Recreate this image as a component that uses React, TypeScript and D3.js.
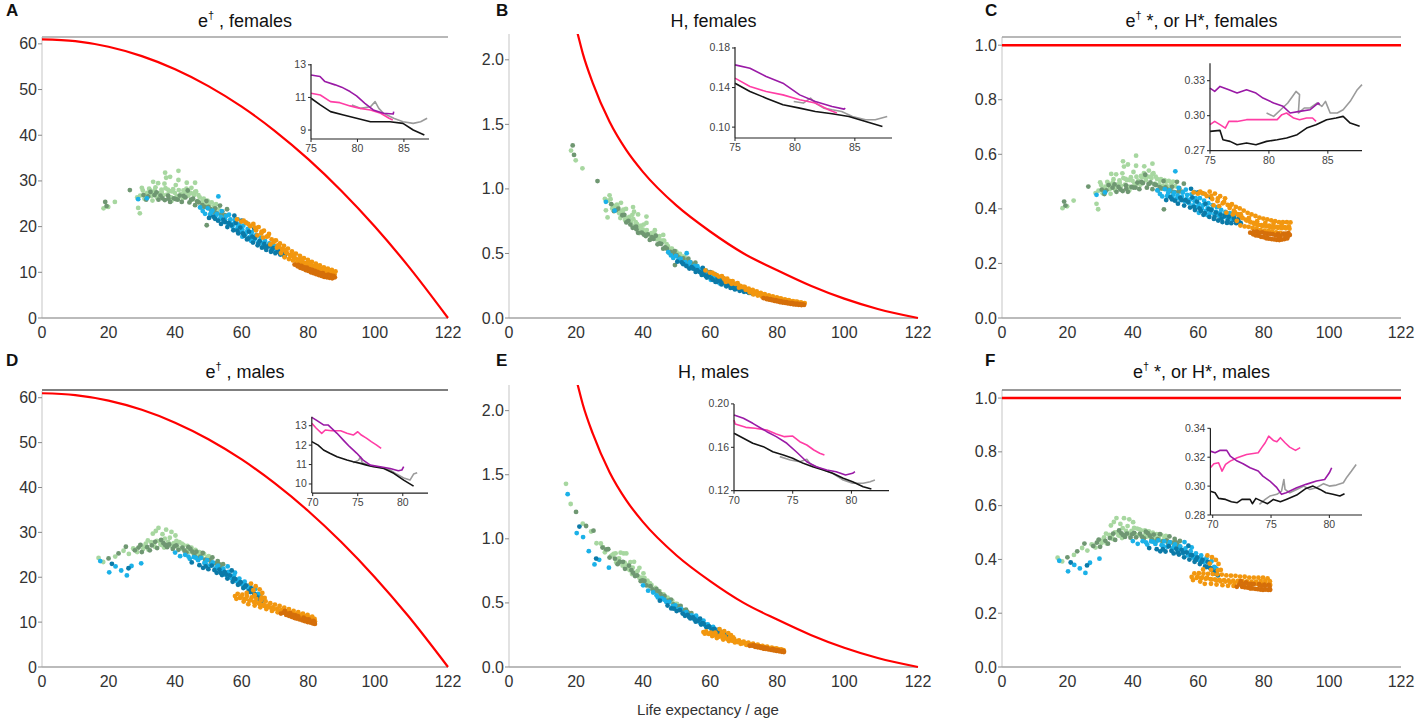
import React from 'react';
import * as d3 from 'd3';

// ---------- DATA ----------
const AGE_TICKS = [0, 20, 40, 60, 80, 100, 122];
const EDAG_TICKS = [0, 10, 20, 30, 40, 50, 60];
const H_TICKS = [0, 0.5, 1, 1.5, 2];
const STAR_TICKS = [0, 0.2, 0.4, 0.6, 0.8, 1];
const OMEGA = 122;

// red bound for e-dagger (panels A, D)
const BOUND_AGES = [0, 10, 20, 30, 40, 50, 60, 70, 80, 90, 100, 110, 122];
const BOUND_EDAG = [61.0, 60.59, 59.36, 57.31, 54.44, 50.75, 46.25, 40.92, 34.77, 27.8, 20.02, 11.41, 0];
// red bound for H (panels B, E)
const HBOUND_AGES = [19, 20.5, 22, 25, 30, 35, 40, 50, 60, 70, 80, 90, 100, 110, 122];
const HBOUND_VALUES = [2.35, 2.2, 2.05, 1.82, 1.52, 1.3, 1.13, 0.87, 0.67, 0.5, 0.37, 0.25, 0.15, 0.07, 0];

// scatter [life expectancy, e-dagger], females
const FEM_GREEN_LIGHT = [[18.5,24.0],[19.9,24.3],[21.9,25.4],[28.9,24.1],[29.4,22.9],[28.6,26.4],[33.4,29.8],[34.9,29.5],[37.0,31.8],[37.3,30.7],[38.5,30.9],[41.0,32.2],[41.0,30.2],[43.5,29.6],[46.0,29.6],[46.0,27.6],
  [29.5,26.8],[30.3,27.9],[30.8,26.1],[31.6,27.4],[32.2,28.3],[32.9,26.7],[33.5,27.6],[34.1,28.6],[34.6,26.3],[35.3,27.3],[35.9,28.1],[36.4,26.9],[37.1,28.4],[37.6,27.0],[38.2,27.8],[38.8,26.4],[39.4,28.2],[39.9,27.4],[40.5,26.7],[41.1,28.0],[41.7,27.1],[42.3,26.2],[42.8,27.6],[43.4,28.3],[44.0,26.8],[44.6,27.4],[45.1,25.9],[45.7,26.9],[46.3,27.7],[46.8,25.6],[47.4,26.4],[48.0,25.2],[48.6,26.1],[49.1,24.8],[49.7,25.7],[50.3,24.6],[51.0,25.3],[51.6,24.1],[52.3,24.9],[53.0,23.9],[36.8,29.4],[40.2,29.1],[44.9,28.5],[38.9,25.6],[33.2,25.7],
  [31.0,27.0],[32.5,27.9],[34.3,27.2],[36.0,27.6],[37.8,28.1],[39.0,27.7],[40.9,26.4],[42.5,27.9],[43.9,27.3],[45.4,27.2],[47.0,26.9],[48.3,25.9],[50.0,25.4],[51.8,24.6],[33.9,28.0],[30.0,28.5]];
const FEM_GREEN_DARK = [[19.0,25.4],[19.4,24.5],[26.4,28.0],[30.5,26.9],[31.3,25.9],[32.6,27.6],[33.8,26.9],[35.0,25.9],[35.6,26.8],[36.9,25.8],[37.9,26.8],[38.5,25.4],[39.6,26.2],[40.8,25.9],[41.4,26.8],[42.0,25.4],[43.1,26.4],[44.3,25.3],[45.4,26.1],[46.0,24.7],[47.1,25.3],[47.7,24.2],[48.9,24.3],[49.4,25.6],[50.6,23.8],[51.3,23.4],[52.0,24.0],[52.7,22.9],[53.5,24.6],[54.2,23.3],[55.0,22.5],[55.6,23.8],[49.5,20.3],[43.8,27.9],
  [31.9,26.6],[34.4,27.5],[36.2,26.2],[38.0,26.1],[40.2,26.0],[42.6,26.7],[44.8,25.9],[46.6,25.5],[48.2,24.7],[50.0,24.3],[51.9,23.2],[53.9,22.7]];
const FEM_BLUE_LIGHT = [[28.9,26.0],[31.5,26.2],[53.0,26.6],[47.5,24.2],[48.3,23.4],[49.0,22.8],[49.8,24.0],[50.5,22.6],[51.2,23.5],[51.9,21.9],[52.6,22.8],[53.3,21.6],[54.0,23.4],[54.6,21.1],[55.3,22.3],[55.9,20.6],[56.6,21.6],[57.2,20.0],[57.9,21.4],[58.5,19.4],[59.2,20.5],[59.8,18.9],[60.5,20.2],[61.1,18.3],[61.8,19.5],[62.4,17.7],[63.1,18.8],[63.7,17.1],[64.4,18.2],[65.0,16.6],[65.7,17.6],[66.3,16.1],[67.0,16.9],[67.6,15.6],[68.3,16.3],[69.0,15.1],[69.7,15.8],[70.4,14.7],[71.1,15.2],[56.2,22.6],[58.8,21.6],[61.4,20.8],[60.2,17.8],[62.8,16.9],
  [50.8,23.1],[52.2,22.4],[53.7,22.1],[55.0,21.6],[56.4,20.9],[57.6,20.6],[58.9,20.0],[60.2,19.3],[61.5,18.8],[62.9,18.1],[64.1,17.6],[65.4,16.9],[66.7,16.5],[68.0,15.9],[69.3,15.5],[70.7,15.0]];
const FEM_BLUE_DARK = [[50.2,21.9],[51.5,22.2],[52.9,21.3],[53.8,20.6],[55.0,21.0],[55.7,19.9],[56.9,20.3],[57.5,19.2],[58.2,20.8],[59.0,18.5],[59.6,19.8],[60.8,18.0],[61.6,17.2],[62.2,18.9],[63.4,16.5],[64.0,17.5],[64.8,15.9],[65.4,16.8],[66.1,15.4],[66.8,16.2],[67.4,14.9],[68.1,15.7],[68.8,14.5],[69.4,15.3],[70.1,14.2],[70.9,14.8],[71.6,13.9],[72.3,14.4],[73.0,13.6],[57.8,22.4],[60.0,21.3],[63.8,19.6],
  [52.0,21.7],[54.5,21.5],[56.1,20.8],[58.7,19.1],[60.4,18.5],[62.0,17.4],[63.2,17.8],[65.0,16.2],[67.1,15.5],[69.0,14.8],[71.2,14.4],[72.6,13.8]];
const FEM_ORANGE = [[58.6,21.6],[59.9,21.1],[61.2,20.9],[62.6,20.1],[63.5,20.6],[64.3,19.2],[65.1,19.9],[65.9,18.5],[66.7,19.1],[67.5,17.8],[68.2,18.4],[69.0,17.2],[69.6,16.6],[70.3,17.0],[70.9,15.9],[71.5,16.3],[72.1,15.1],[72.7,15.8],[73.3,14.4],[73.9,15.2],[74.5,13.8],[75.1,14.6],[75.7,13.3],[76.3,14.1],[76.9,12.8],[77.5,13.6],[78.1,12.4],[78.7,13.1],[79.3,12.0],[79.9,12.7],[80.5,11.7],[81.1,12.3],[81.7,11.4],[82.3,11.9],[82.9,11.0],[83.5,11.5],[84.1,10.7],[84.7,11.1],[85.3,10.4],[85.9,10.8],[86.5,10.1],[87.1,10.5],[87.7,9.9],[88.2,10.2],[71.8,14.2],[72.9,13.3],[74.2,12.9],[75.4,12.6],[76.6,12.2],[77.8,11.9],[79.0,11.4],[80.2,11.1],[81.4,10.8],[82.6,10.5],[83.8,10.1],[85.0,9.8],[70.6,15.4],[68.6,16.1],[66.4,17.6],[64.7,18.1],
  [60.6,21.3],[62.0,20.6],[64.0,19.8],[66.0,18.9],[67.9,17.9],[69.9,16.9],[71.2,15.6],[72.4,14.9],[73.6,14.2],[74.8,13.6],[76.0,13.1],[77.2,12.6],[78.4,12.2],[79.6,11.8],[80.8,11.5],[82.0,11.1],[83.2,10.8],[84.4,10.5],[85.6,10.2],[86.8,9.9],[87.9,9.6],[73.0,14.9],[75.5,13.8],[78.0,12.8],[80.5,12.0],[83.0,11.3],[85.5,10.6]];
const FEM_ORANGE_DARK = [[75.9,11.7],[76.8,11.3],[77.6,11.0],[78.4,10.8],[79.2,10.5],[80.0,10.3],[80.8,10.0],[81.6,9.8],[82.4,9.6],[83.2,9.4],[84.0,9.2],[84.8,9.0],[85.6,8.9],[86.4,8.8],[87.2,8.7],[86.0,9.5],[84.4,9.8],[82.8,10.1],[81.2,10.5],[79.6,11.0],[78.0,11.4],[87.6,9.2],[88.0,8.9],[86.8,9.3],
  [77.0,11.6],[78.8,11.1],[80.4,10.7],[82.0,10.3],[83.6,9.8],[85.2,9.4],[86.6,9.1],[81.0,10.1],[84.6,9.4],[87.4,8.9]];

// scatter [life expectancy, e-dagger], males
const MALE_GREEN_LIGHT = [[17.0,24.3],[18.4,23.4],[22.0,24.6],[24.5,25.9],[26.1,25.2],[27.4,26.4],[28.6,25.6],[29.5,27.1],[30.4,26.3],[31.2,27.5],[32.0,26.1],[32.8,27.8],[33.3,29.7],[33.9,26.8],[34.5,28.1],[35.0,31.0],[35.6,27.3],[36.2,29.6],[36.7,26.6],[37.3,30.6],[37.9,27.9],[38.4,28.8],[39.0,26.9],[39.6,27.6],[40.1,29.3],[40.7,26.8],[41.3,27.8],[41.9,26.4],[42.5,27.2],[43.1,26.0],[43.7,27.0],[44.3,25.7],[44.9,26.6],[45.5,25.3],[46.1,26.1],[46.7,24.9],[47.3,25.6],[48.0,24.5],[48.7,25.2],[49.4,24.0],[50.1,24.7],[34.2,30.3],[38.9,30.1],
  [28.0,26.2],[30.8,26.9],[33.5,27.3],[35.3,28.0],[36.9,28.6],[38.6,27.3],[40.4,28.1],[42.0,27.5],[43.9,26.3],[45.8,25.8],[47.9,25.0],[49.7,24.5],[31.8,28.2],[36.0,27.2]];
const MALE_GREEN_DARK = [[20.0,24.2],[23.0,25.3],[25.2,26.8],[27.9,26.0],[29.0,26.6],[30.0,25.6],[31.6,26.7],[33.0,27.1],[34.6,26.5],[35.8,28.3],[36.5,27.6],[37.6,26.7],[38.2,27.3],[39.3,26.3],[40.4,27.1],[41.0,26.1],[42.2,26.6],[43.4,25.5],[44.6,26.3],[45.8,24.9],[46.4,25.7],[47.6,24.6],[48.3,25.4],[49.0,23.9],[50.4,23.8],[51.2,24.4],[52.0,23.1],[52.8,23.6],[53.6,22.4],[54.4,22.9],
  [29.6,27.2],[32.4,26.0],[34.0,27.9],[37.0,27.2],[39.8,26.9],[42.8,25.9],[45.2,25.7],[47.0,24.2],[50.8,23.2],[53.2,22.9],[44.0,26.7]];
const MALE_BLUE_LIGHT = [[17.5,23.6],[20.2,21.1],[22.1,22.4],[23.8,21.5],[25.5,20.4],[26.9,22.5],[29.8,23.1],[40.0,25.5],[41.5,24.7],[43.0,25.0],[44.4,24.1],[45.6,24.5],[46.9,23.8],[47.8,24.3],[48.8,23.2],[49.6,23.8],[50.5,22.6],[51.3,23.3],[52.1,21.9],[52.9,22.6],[53.7,21.2],[54.5,21.9],[55.3,20.5],[56.1,21.2],[56.9,19.8],[57.7,20.4],[58.5,19.1],[59.3,19.7],[60.1,18.4],[60.9,19.0],[61.7,17.7],[62.5,18.2],[63.3,17.0],[64.1,17.4],[64.9,16.3],[65.6,15.8],[55.8,22.4],[58.0,21.0],
  [49.2,23.0],[50.9,22.8],[52.5,22.2],[54.1,21.5],[55.6,20.8],[57.3,20.1],[58.9,19.3],[60.5,18.7],[62.1,17.9],[63.7,17.2],[65.2,16.1],[46.3,24.3],[44.0,24.6]];
const MALE_BLUE_DARK = [[21.0,23.0],[26.0,22.0],[45.0,23.3],[47.3,22.7],[48.4,22.1],[50.0,21.8],[51.0,22.6],[52.5,21.0],[53.3,21.7],[54.1,20.5],[54.9,21.2],[55.7,19.7],[56.5,20.4],[57.3,19.0],[58.1,19.6],[58.9,18.3],[59.7,18.9],[60.5,17.6],[61.3,18.2],[62.1,16.9],[62.9,17.5],[63.7,16.3],[64.5,15.6],[65.3,15.1],[66.0,14.7],[57.0,21.5],
  [51.8,21.6],[53.8,20.9],[55.4,20.6],[57.7,19.7],[59.3,18.6],[61.0,17.9],[62.6,16.7],[64.0,16.0],[65.6,15.4],[49.2,22.4]];
const MALE_ORANGE = [[58.0,15.8],[58.8,16.3],[59.5,15.4],[60.2,16.1],[60.9,15.1],[61.6,15.8],[62.3,14.8],[63.0,15.5],[63.7,14.5],[64.4,15.2],[65.1,14.2],[65.8,14.9],[66.5,13.9],[67.2,14.6],[67.9,13.6],[68.6,14.2],[69.3,13.3],[70.0,13.9],[70.7,13.0],[71.4,13.6],[72.1,12.7],[72.8,13.2],[73.5,12.4],[74.2,12.9],[74.9,12.1],[75.6,12.5],[76.3,11.8],[77.0,12.2],[77.7,11.5],[78.4,11.9],[79.1,11.3],[79.8,11.6],[80.5,11.0],[81.2,11.2],[81.9,10.7],[62.8,18.6],[64.2,18.0],[65.4,17.3],[66.2,16.5],[63.5,17.1],[60.6,14.6],[62.0,14.0],[63.9,13.7],[65.6,13.3],[67.4,12.9],[69.1,12.5],[70.8,12.2],[66.9,15.4],
  [58.4,15.2],[59.8,15.6],[61.2,15.2],[62.7,14.9],[64.0,14.4],[65.5,14.0],[66.8,13.6],[68.3,13.3],[69.7,12.9],[71.1,12.6],[72.5,12.3],[73.9,12.0],[75.3,11.7],[76.7,11.4],[78.1,11.1],[79.5,10.8],[80.9,10.5],[82.0,10.2],[61.5,16.5],[63.9,16.0],[66.0,15.5]];
const MALE_ORANGE_DARK = [[71.8,11.9],[72.6,12.1],[73.4,11.6],[74.2,11.4],[75.0,11.2],[75.8,11.0],[76.6,10.8],[77.4,10.6],[78.2,10.4],[79.0,10.2],[79.8,10.0],[80.6,9.9],[81.4,9.7],[82.0,9.6],[76.2,11.5],[78.6,11.0],[80.2,10.6],[81.6,10.3],[73.0,12.5],[74.6,12.0],
  [73.8,11.9],[75.4,11.6],[77.0,11.3],[78.8,10.8],[80.4,10.4],[81.8,10.0],[76.0,10.9],[79.4,10.6]];

// inset series, panel A (e-dagger, females)
const INSET_A_PURPLE = [[75,12.38],[75.97,12.28],[76.5,11.97],[77.6,11.77],[78.3,11.63],[79.2,11.36],[79.9,11.09],[80.8,10.64],[81.7,10.23],[82.8,10.03],[83.85,9.98],[83.9,10.13]];
const INSET_A_PINK = [[75,11.26],[76,11.15],[77.1,10.74],[78.1,10.68],[79.2,10.48],[80.3,10.33],[81.4,10.23],[82.5,10.03],[83.4,9.72],[83.8,9.62]];
const INSET_A_BLACK = [[75,10.95],[76,10.54],[77.1,10.13],[78.5,9.92],[79.9,9.72],[81.4,9.51],[82.5,9.51],[83.5,9.51],[84.9,9.41],[86,9.0],[87.2,8.69]];
const INSET_A_GRAY = [[79.4,10.54],[80.3,10.33],[81.4,10.43],[81.9,10.74],[82.3,10.33],[82.8,10.03],[83.9,9.72],[84.9,9.51],[86,9.41],[86.8,9.51],[87.5,9.72]];
// panel B (H, females)
const INSET_B_PURPLE = [[75,0.1629],[76.25,0.1595],[77.6,0.1511],[79,0.1444],[80.4,0.1326],[81.7,0.1259],[83.1,0.1208],[84.1,0.1182],[84.2,0.1192]];
const INSET_B_PINK = [[75,0.1495],[76.25,0.141],[77.6,0.136],[79,0.1326],[80.4,0.1276],[81.7,0.1243],[82.8,0.1175],[83.5,0.1142]];
const INSET_B_BLACK = [[75,0.1444],[76.25,0.136],[77.6,0.1293],[79,0.1226],[80.4,0.1192],[81.7,0.1158],[83.1,0.1135],[84.5,0.1108],[85.9,0.1057],[87.3,0.1007]];
const INSET_B_GRAY = [[79.9,0.1259],[80.7,0.1243],[81.3,0.1293],[81.7,0.1243],[82.4,0.1192],[83.1,0.1175],[83.9,0.1158],[84.8,0.1108],[85.9,0.1074],[86.7,0.1074],[87.7,0.1108]];
// panel C (e-dagger*, females)
const INSET_C_PURPLE = [[75,0.3237],[75.4,0.3208],[75.85,0.3251],[76.6,0.3223],[77.3,0.3194],[78.1,0.3223],[78.9,0.3194],[79.5,0.3151],[80.4,0.3109],[81.2,0.308],[81.8,0.3023],[82.6,0.3037],[83.5,0.3051],[84.2,0.3109],[84.3,0.3094]];
const INSET_C_PINK = [[75,0.2923],[75.4,0.2951],[75.85,0.2923],[76.3,0.2894],[76.6,0.2951],[77.3,0.2951],[78.1,0.2966],[79.8,0.2966],[80.7,0.2966],[81.1,0.3009],[81.5,0.3023],[82.1,0.298],[82.6,0.2966],[83.2,0.298],[83.7,0.298],[84,0.2951]];
const INSET_C_BLACK = [[75,0.2866],[75.85,0.2874],[76.1,0.2794],[76.7,0.278],[77.3,0.2751],[78.1,0.2766],[78.9,0.2751],[79.8,0.278],[80.7,0.2794],[81.5,0.2809],[82.4,0.2837],[83.2,0.2894],[84,0.2923],[84.9,0.2966],[85.7,0.298],[86.3,0.2994],[86.9,0.2937],[87.7,0.2909]];
const INSET_C_GRAY = [[79.8,0.3023],[80.4,0.2994],[81,0.3051],[81.6,0.3109],[82.3,0.3208],[82.6,0.318],[82.5,0.3023],[83,0.3066],[83.5,0.3066],[84.1,0.3109],[84.5,0.308],[84.8,0.3123],[85.2,0.3023],[85.8,0.3023],[86.3,0.3051],[86.9,0.3123],[87.5,0.3223],[87.9,0.3266]];
// panel D (e-dagger, males)
const INSET_D_PURPLE = [[69.9,13.43],[70.4,13.29],[71.2,13.04],[71.7,13.04],[72.7,12.61],[73.4,12.26],[74.1,11.92],[74.9,11.58],[75.6,11.23],[76.4,10.97],[77.5,10.89],[78.6,10.8],[79.5,10.68],[79.9,10.72],[80.1,10.89]];
const INSET_D_PINK = [[69.9,13.12],[70.4,12.87],[71.0,12.61],[71.4,12.78],[72.1,12.74],[73.1,12.74],[73.8,12.61],[74.5,12.52],[75,12.69],[75.4,12.52],[76,12.35],[76.5,12.18],[77.1,12.0],[77.6,11.83]];
const INSET_D_BLACK = [[69.9,12.18],[70.6,12.0],[71.2,11.75],[71.9,11.58],[72.7,11.4],[73.8,11.23],[74.5,11.14],[75.3,11.06],[76,10.97],[76.8,10.89],[77.9,10.8],[79,10.55],[80.1,10.2],[81.2,9.89]];
const INSET_D_GRAY = [[74.5,11.09],[75.1,11.23],[75.3,11.4],[75.5,11.09],[76.4,10.92],[77.5,10.86],[78.6,10.72],[79.3,10.51],[80.2,10.29],[80.8,10.2],[81.2,10.51],[81.6,10.58]];
// panel E (H, males)
const INSET_E_PURPLE = [[70,0.1898],[70.8,0.1867],[71.6,0.1821],[72.8,0.1744],[73.6,0.1698],[74.5,0.1637],[75.3,0.1559],[76.2,0.1467],[77,0.1421],[77.9,0.1391],[78.7,0.1375],[79.5,0.1345],[80.1,0.136],[80.3,0.1375]];
const INSET_E_PINK = [[70,0.1852],[70.1,0.1815],[71,0.1784],[71.8,0.1775],[72.8,0.1759],[73.6,0.1723],[74.3,0.1698],[75,0.1704],[75.6,0.1652],[76.2,0.1621],[76.8,0.1575],[77.3,0.1545],[77.7,0.1529]];
const INSET_E_BLACK = [[70,0.1729],[70.8,0.1683],[71.6,0.1637],[72.5,0.1606],[73.3,0.1559],[74.2,0.1529],[75,0.1499],[75.9,0.1452],[76.7,0.1421],[77.6,0.1391],[78.4,0.136],[79.3,0.1314],[80.1,0.1283],[81,0.1237],[81.7,0.1216]];
const INSET_E_GRAY = [[73.9,0.1514],[74.8,0.1483],[75.6,0.1467],[76.2,0.1489],[76.5,0.1446],[77.3,0.1406],[78.4,0.136],[79.3,0.1298],[80.1,0.1268],[81,0.1268],[81.6,0.1283],[82,0.1298]];
// panel F (e-dagger*, males)
const INSET_F_PURPLE = [[69.8,0.3242],[70.2,0.3231],[70.6,0.3247],[71.2,0.3247],[71.5,0.3208],[72.1,0.3173],[72.6,0.3155],[73.2,0.3127],[73.9,0.3104],[74.3,0.3069],[74.9,0.3035],[75.5,0.2989],[75.9,0.2943],[76.3,0.2954],[77.2,0.2989],[78,0.3012],[78.9,0.3035],[79.6,0.3046],[80,0.3092],[80.2,0.3127]];
const INSET_F_PINK = [[69.8,0.3127],[70.1,0.3155],[70.5,0.3162],[70.8,0.3104],[71.1,0.315],[71.5,0.3173],[72.1,0.3196],[72.9,0.3219],[73.9,0.3231],[74.2,0.3266],[74.5,0.33],[74.8,0.3346],[75.2,0.3316],[75.5,0.3307],[75.8,0.3335],[76.2,0.33],[76.6,0.327],[77.1,0.3247],[77.5,0.3266]];
const INSET_F_BLACK = [[69.8,0.2965],[70.2,0.2954],[70.5,0.2915],[71.1,0.2908],[71.6,0.2892],[72.1,0.2885],[72.5,0.2908],[73.2,0.2908],[73.4,0.2878],[73.7,0.2915],[74.2,0.2896],[74.7,0.2878],[75.2,0.2908],[75.8,0.2892],[76.3,0.2908],[77.2,0.2938],[78,0.2984],[78.6,0.3],[79.2,0.2977],[79.7,0.2954],[80.3,0.2943],[80.9,0.2931],[81.3,0.2947]];
const INSET_F_GRAY = [[74,0.2873],[74.5,0.2908],[74.9,0.2931],[75.5,0.2943],[75.9,0.2965],[76.1,0.3046],[76.2,0.2977],[76.6,0.2954],[77.2,0.2977],[77.8,0.3],[78.3,0.2977],[78.9,0.2989],[79.5,0.3017],[80,0.3],[80.6,0.3007],[81.2,0.3023],[81.5,0.3062],[81.9,0.3104],[82.3,0.315]];

// ---------- STYLE ----------
const FONT = '"Liberation Sans", Arial, Helvetica, sans-serif';
const GROUP_COLORS = ['#a7d7a0', '#6f9772', '#1bb1e8', '#0b7aa8', '#f2970f', '#d56f0a'];
const LINE_COLORS = { purple: '#9a1aa6', pink: '#ff3da5', black: '#141414', gray: '#9b9b9b' };

const edagMax = (e0: number) => (OMEGA * OMEGA - e0 * e0) / (2 * OMEGA);

type Pt = number[];

function Inset({ cfg }: { cfg: any }) {
  const x = d3.scaleLinear().domain(cfg.xDomain).range(cfg.xRange);
  const y = d3.scaleLinear().domain(cfg.yDomain).range(cfg.yRange);
  const line = d3.line<Pt>().x(d => x(d[0])).y(d => y(d[1]));
  return (
    <g>
      {cfg.lines.map((l: any, i: number) => (
        <path key={i} d={line(l.pts) || ''} fill="none" stroke={l.color} strokeWidth={1.6} strokeLinejoin="round" />
      ))}
      <line x1={cfg.xRange[0]} x2={cfg.xRange[1]} y1={cfg.yRange[0]} y2={cfg.yRange[0]} stroke="#222" strokeWidth={1.2} />
      <line x1={cfg.xRange[0]} x2={cfg.xRange[0]} y1={cfg.yRange[0]} y2={cfg.yRange[1]} stroke="#222" strokeWidth={1.2} />
      {cfg.xTicks.map((t: number) => (
        <g key={'x' + t}>
          <line x1={x(t)} x2={x(t)} y1={cfg.yRange[0]} y2={cfg.yRange[0] + 3} stroke="#222" />
          <text x={x(t)} y={cfg.yRange[0] + 13} textAnchor="middle" fontSize={10.5} fill="#444">{t}</text>
        </g>
      ))}
      {cfg.yTicks.map((t: number) => (
        <g key={'y' + t}>
          <line x1={cfg.xRange[0] - 3} x2={cfg.xRange[0]} y1={y(t)} y2={y(t)} stroke="#222" />
          <text x={cfg.xRange[0] - 5} y={y(t) + 3.5} textAnchor="end" fontSize={10.5} fill="#444">{cfg.fmt(t)}</text>
        </g>
      ))}
    </g>
  );
}

function Panel({ p }: { p: any }) {
  const x = d3.scaleLinear().domain([0, OMEGA]).range([p.x0, p.x1]);
  const y = d3.scaleLinear().domain(p.yDomain).range([p.yBottom, p.yTop]);
  const clipId = 'clip-' + p.letter;
  const redLine = d3.line<Pt>().x(d => x(d[0])).y(d => y(d[1])).curve(d3.curveMonotoneX);
  return (
    <g>
      <defs>
        <clipPath id={clipId}>
          <rect x={p.x0 - 2} y={p.yTop} width={p.x1 - p.x0 + 4} height={p.yBottom - p.yTop + 2} />
        </clipPath>
      </defs>
      <text x={p.letterX} y={p.letterY} fontSize={17} fontWeight="bold" fill="#111">{p.letter}</text>
      <text x={(p.x0 + p.x1) / 2} y={p.titleY} textAnchor="middle" fontSize={18} fill="#111">
        {p.title}
      </text>
      <line x1={p.x0} x2={p.x0} y1={p.yTop} y2={p.yBottom} stroke="#cfcfcf" strokeWidth={1.2} />
      <line x1={p.x0} x2={p.x1} y1={p.yBottom} y2={p.yBottom} stroke="#a5a5a5" strokeWidth={1.5} />
      {p.topLine && (
        <line x1={p.x0} x2={p.x1} y1={p.topLine.y} y2={p.topLine.y} stroke={p.topLine.color} strokeWidth={1.6} />
      )}
      {AGE_TICKS.map(t => (
        <text key={'xt' + t} x={x(t)} y={p.yBottom + 20} textAnchor="middle" fontSize={16} fill="#333">{t}</text>
      ))}
      {p.yTicks.map((t: number) => (
        <g key={'yt' + t}>
          <line x1={p.x0 - 4} x2={p.x0} y1={y(t)} y2={y(t)} stroke="#888" />
          <text x={p.x0 - 5} y={y(t) + 5.5} textAnchor="end" fontSize={16} fill="#333">{p.fmt(t)}</text>
        </g>
      ))}
      <g>
        {p.groups.map((g: Pt[], gi: number) =>
          g.map((d, i) => {
            const v = p.transform(d);
            return <circle key={gi + '-' + i} cx={x(d[0])} cy={y(v)} r={2.4} fill={GROUP_COLORS[gi]} />;
          })
        )}
      </g>
      <g clipPath={`url(#${clipId})`}>
        {p.redCurve && <path d={redLine(p.redCurve) || ''} fill="none" stroke="#ff0000" strokeWidth={2.2} />}
        {p.redH !== undefined && (
          <line x1={p.x0} x2={p.x1} y1={y(p.redH)} y2={y(p.redH)} stroke="#ff0000" strokeWidth={2.6} />
        )}
      </g>
      <Inset cfg={p.inset} />
    </g>
  );
}

function titleDag(rest: string) {
  return (
    <>
      <tspan>e</tspan>
      <tspan dy={-8} fontSize={11}>†</tspan>
      <tspan dy={8}>{rest}</tspan>
    </>
  );
}

export default function App() {
  const boundCurve = BOUND_AGES.map((a, i) => [a, BOUND_EDAG[i]]);
  const hCurve = HBOUND_AGES.map((a, i) => [a, HBOUND_VALUES[i]]);
  const fem = [FEM_GREEN_LIGHT, FEM_GREEN_DARK, FEM_BLUE_LIGHT, FEM_BLUE_DARK, FEM_ORANGE, FEM_ORANGE_DARK];
  const male = [MALE_GREEN_LIGHT, MALE_GREEN_DARK, MALE_BLUE_LIGHT, MALE_BLUE_DARK, MALE_ORANGE, MALE_ORANGE_DARK];
  const idE = (d: Pt) => d[1];
  const idH = (d: Pt) => d[1] / d[0];
  const idS = (d: Pt) => d[1] / edagMax(d[0]);
  const f0 = (t: number) => String(t);
  const f1 = (t: number) => t.toFixed(1);
  const f2 = (t: number) => t.toFixed(2);
  const lines = (pu: Pt[], pi: Pt[], bl: Pt[], gr: Pt[]) => [
    { color: LINE_COLORS.gray, pts: gr },
    { color: LINE_COLORS.black, pts: bl },
    { color: LINE_COLORS.pink, pts: pi },
    { color: LINE_COLORS.purple, pts: pu },
  ];

  const panels = [
    {
      letter: 'A', letterX: 6, letterY: 16, titleY: 27, title: titleDag(' , females'),
      x0: 42, x1: 448, yTop: 37, yBottom: 318, yDomain: [0, 61.5], yTicks: EDAG_TICKS, fmt: f0,
      groups: fem, transform: idE, redCurve: boundCurve, topLine: { y: 37, color: '#a0a0a0' },
      inset: { xDomain: [75, 87.7], xRange: [311, 429], yDomain: [8.45, 13.05], yRange: [139, 64], xTicks: [75, 80, 85], yTicks: [9, 11, 13], fmt: f0, lines: lines(INSET_A_PURPLE, INSET_A_PINK, INSET_A_BLACK, INSET_A_GRAY) },
    },
    {
      letter: 'B', letterX: 496, letterY: 16, titleY: 27, title: 'H, females',
      x0: 509, x1: 918, yTop: 34, yBottom: 318, yDomain: [0, 2.2], yTicks: H_TICKS, fmt: f1,
      groups: fem, transform: idH, redCurve: hCurve,
      inset: { xDomain: [75, 88.1], xRange: [735, 892], yDomain: [0.089, 0.181], yRange: [138, 47], xTicks: [75, 80, 85], yTicks: [0.1, 0.14, 0.18], fmt: f2, lines: lines(INSET_B_PURPLE, INSET_B_PINK, INSET_B_BLACK, INSET_B_GRAY) },
    },
    {
      letter: 'C', letterX: 985, letterY: 16, titleY: 27, title: titleDag(' *, or H*, females'),
      x0: 1002, x1: 1401, yTop: 37, yBottom: 318, yDomain: [0, 1.03], yTicks: STAR_TICKS, fmt: f1,
      groups: fem, transform: idS, redH: 1, topLine: { y: 37, color: '#a0a0a0' },
      inset: { xDomain: [75, 87.9], xRange: [1210, 1362], yDomain: [0.27, 0.345], yRange: [150.7, 63.2], xTicks: [75, 80, 85], yTicks: [0.27, 0.3, 0.33], fmt: f2, lines: lines(INSET_C_PURPLE, INSET_C_PINK, INSET_C_BLACK, INSET_C_GRAY) },
    },
    {
      letter: 'D', letterX: 6, letterY: 366, titleY: 378, title: titleDag(' , males'),
      x0: 42, x1: 448, yTop: 391, yBottom: 667, yDomain: [0, 61.5], yTicks: EDAG_TICKS, fmt: f0,
      groups: male, transform: idE, redCurve: boundCurve, topLine: { y: 390, color: '#555' },
      inset: { xDomain: [69.9, 82.8], xRange: [311.8, 428], yDomain: [9.53, 13.46], yRange: [493.1, 416.8], xTicks: [70, 75, 80], yTicks: [10, 11, 12, 13], fmt: f0, lines: lines(INSET_D_PURPLE, INSET_D_PINK, INSET_D_BLACK, INSET_D_GRAY) },
    },
    {
      letter: 'E', letterX: 496, letterY: 366, titleY: 378, title: 'H, males',
      x0: 509, x1: 918, yTop: 385, yBottom: 667, yDomain: [0, 2.2], yTicks: H_TICKS, fmt: f1,
      groups: male, transform: idH, redCurve: hCurve,
      inset: { xDomain: [70, 83.2], xRange: [734, 889], yDomain: [0.12, 0.2], yRange: [490.7, 403.9], xTicks: [70, 75, 80], yTicks: [0.12, 0.16, 0.2], fmt: f2, lines: lines(INSET_E_PURPLE, INSET_E_PINK, INSET_E_BLACK, INSET_E_GRAY) },
    },
    {
      letter: 'F', letterX: 985, letterY: 366, titleY: 378, title: titleDag(' *, or H*, males'),
      x0: 1002, x1: 1401, yTop: 390, yBottom: 667, yDomain: [0, 1.03], yTicks: STAR_TICKS, fmt: f1,
      groups: male, transform: idS, redH: 1, topLine: { y: 390, color: '#777' },
      inset: { xDomain: [69.8, 82.8], xRange: [1210.4, 1362], yDomain: [0.28, 0.34], yRange: [515, 428.3], xTicks: [70, 75, 80], yTicks: [0.28, 0.3, 0.32, 0.34], fmt: f2, lines: lines(INSET_F_PURPLE, INSET_F_PINK, INSET_F_BLACK, INSET_F_GRAY) },
    },
  ];

  return (
    <svg width={1416} height={723} style={{ position: 'absolute', left: 0, top: 0, fontFamily: FONT }}>
      <rect width={1416} height={723} fill="#fff" />
      {panels.map(p => <Panel key={p.letter} p={p} />)}
      <text x={708} y={715} textAnchor="middle" fontSize={15} fill="#333">Life expectancy / age</text>
    </svg>
  );
}
